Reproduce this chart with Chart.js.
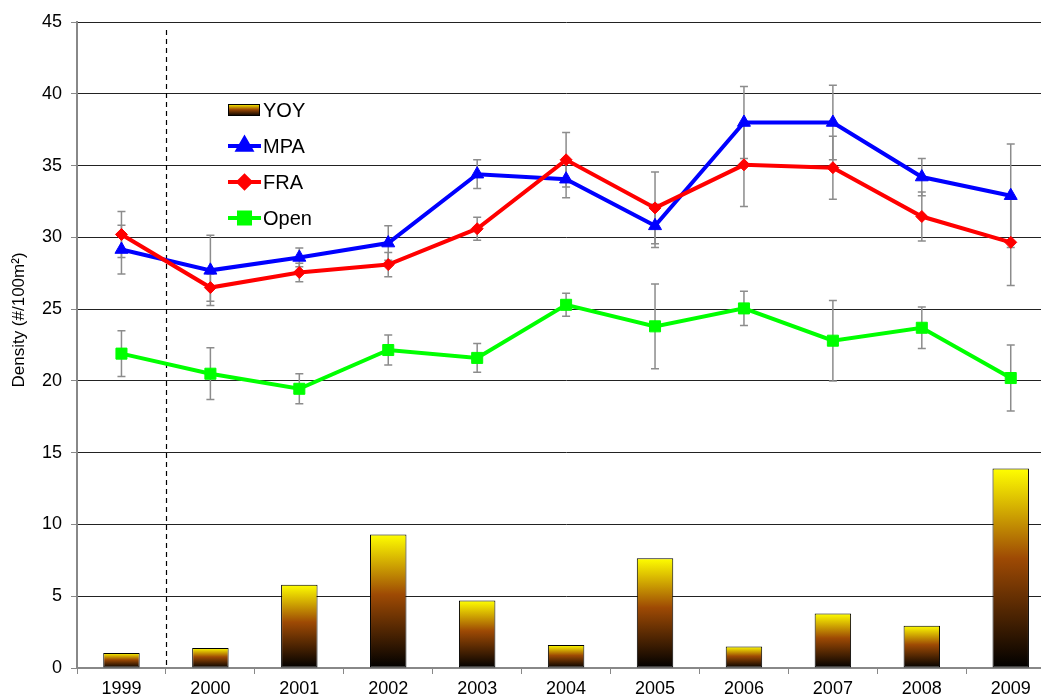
<!DOCTYPE html>
<html>
<head>
<meta charset="utf-8">
<script src="https://cdn.jsdelivr.net/npm/chart.js@4"></script>
<style>
  html,body{margin:0;padding:0;background:#fff;overflow:hidden;}
  #wrap{width:1041px;height:700px;overflow:hidden;}
</style>
</head>
<body>
<div id="wrap"><canvas id="c" width="1064" height="700"></canvas></div>
<script>
// ===== data =====
const years = ['1999','2000','2001','2002','2003','2004','2005','2006','2007','2008','2009'];
const yoy   = [1.05, 1.4, 5.8, 9.3, 4.7, 1.6, 7.65, 1.5, 3.8, 2.95, 13.9];
const mpa   = [29.15, 27.7, 28.6, 29.6, 34.4, 34.05, 30.8, 38.0, 38.0, 34.2, 32.9];
const fra   = [30.2, 26.5, 27.55, 28.1, 30.6, 35.4, 32.05, 35.05, 34.85, 31.45, 29.65];
const open  = [21.9, 20.5, 19.45, 22.15, 21.6, 25.3, 23.8, 25.05, 22.8, 23.7, 20.2];
const mpaErr  = [1.7, 2.45, 0.65, 1.2, 1.0, 1.3, 1.5, 2.5, 2.6, 1.3, 3.6];
const fraErr  = [1.6, 0.95, 0.65, 0.85, 0.8, 1.9, 2.5, 2.9, 2.2, 1.7, 3.0];
const openErr = [1.6, 1.8, 1.05, 1.05, 1.0, 0.8, 2.95, 1.2, 2.8, 1.45, 2.3];
const yTicks = [0,5,10,15,20,25,30,35,40,45];
const yTitle = 'Density (#/100m²)';

const FONT = 'Liberation Sans, Arial, sans-serif';

// ===== helpers =====
function barGrad(g, top, bot){
  const gr = g.createLinearGradient(0, top, 0, bot);
  gr.addColorStop(0, '#ffff00');
  gr.addColorStop(0.45, '#9e4a04');
  gr.addColorStop(1, '#000000');
  return gr;
}

// error bars (drawn under the lines)
const errBars = {
  id:'errBars',
  beforeDatasetsDraw(c){
    const {ctx, scales:{x,y}} = c;
    ctx.save();
    ctx.strokeStyle = '#8c8c8c'; ctx.lineWidth = 1.5;
    [[mpa,mpaErr],[fra,fraErr],[open,openErr]].forEach(([v,e])=>{
      v.forEach((val,i)=>{
        const px = x.getPixelForValue(i);
        const hi = y.getPixelForValue(val+e[i]), lo = y.getPixelForValue(val-e[i]);
        ctx.beginPath();
        ctx.moveTo(px,hi); ctx.lineTo(px,lo);
        ctx.moveTo(px-4,hi); ctx.lineTo(px+4,hi);
        ctx.moveTo(px-4,lo); ctx.lineTo(px+4,lo);
        ctx.stroke();
      });
    });
    ctx.restore();
  }
};

// dashed separator between 1999 and 2000
const divider = {
  id:'divider',
  beforeDatasetsDraw(c){
    const {ctx, chartArea:{top,bottom}, scales:{x}} = c;
    const px = Math.round((x.getPixelForValue(0)+x.getPixelForValue(1))/2)+0.5;
    ctx.save();
    ctx.strokeStyle='#000'; ctx.lineWidth=1.2; ctx.setLineDash([5,4]);
    ctx.beginPath(); ctx.moveTo(px,top+8); ctx.lineTo(px,bottom); ctx.stroke();
    ctx.restore();
  }
};

// y title, sits a bit above the middle like the original
const yTitlePlug = {
  id:'yTitlePlug',
  afterDraw(c){
    const ctx = c.ctx, a = c.chartArea;
    ctx.save();
    ctx.translate(19, (a.top+a.bottom)/2 - 25);
    ctx.rotate(-Math.PI/2);
    ctx.font = '17px ' + FONT; ctx.fillStyle = '#000';
    ctx.textAlign = 'center'; ctx.textBaseline = 'middle';
    ctx.fillText(yTitle, 0, 0);
    ctx.restore();
  }
};

// legend inside the plot
const inLegend = {
  id:'inLegend',
  afterDraw(c){
    const ctx = c.ctx, x0 = c.chartArea.left + 151, y0 = 110, step = 36;
    ctx.save();
    ctx.font = '20px ' + FONT; ctx.fillStyle = '#000'; ctx.textBaseline = 'middle';
    c.data.datasets.forEach((ds,i)=>{
      const yy = y0 + i*step;
      if (ds.type === 'bar') {
        ctx.fillStyle = barGrad(ctx, yy-6, yy+6);
        ctx.fillRect(x0, yy-6, 32, 12);
        ctx.strokeStyle='#000'; ctx.lineWidth=1; ctx.strokeRect(x0+0.5, yy-5.5, 31, 11);
      } else {
        ctx.strokeStyle = ds.borderColor; ctx.lineWidth = 4;
        ctx.beginPath(); ctx.moveTo(x0, yy); ctx.lineTo(x0+33, yy); ctx.stroke();
        ctx.fillStyle = ds.borderColor;
        Chart.helpers.drawPoint(ctx, {pointStyle: ds.pointStyle, radius: ds.pointRadius, borderWidth: 1}, x0+16.5, yy);
        ctx.fill();
      }
      ctx.fillStyle = '#000';
      ctx.fillText(ds.label, x0+35, yy+1);
    });
    ctx.restore();
  }
};

const mkLine = (label, data, col, style, r, ord) => ({
  type:'line', label, data, order: ord,
  borderColor: col, backgroundColor: col, borderWidth: 4,
  pointStyle: style, pointRadius: r, pointHoverRadius: r,
  pointBackgroundColor: col, pointBorderColor: col, pointBorderWidth: 1,
  tension: 0
});

new Chart(document.getElementById('c'), {
  type:'bar',
  data:{
    labels: years,
    datasets:[
      { type:'bar', label:'YOY', data: yoy, order: 4,
        borderColor:'#000', borderWidth:1, borderSkipped:false,
        barPercentage:0.41, categoryPercentage:1,
        backgroundColor: ctx => {
          const c = ctx.chart;
          if (!c.chartArea || ctx.type !== 'data') return '#a05000';
          const y = c.scales.y;
          return barGrad(c.ctx, y.getPixelForValue(ctx.raw), y.getPixelForValue(0));
        }
      },
      mkLine('MPA', mpa, '#0000ff', 'triangle', 7.5, 3),
      mkLine('FRA', fra, '#ff0000', 'rectRot', 6, 2),
      mkLine('Open', open, '#00ff00', 'rect', 7.8, 1)
    ]
  },
  options:{
    responsive:false, animation:false,
    layout:{padding:{top:22, left:8, right:0, bottom:0}},
    plugins:{legend:{display:false}, tooltip:{enabled:false}},
    scales:{
      x:{
        offset:true,
        grid:{drawOnChartArea:false, drawTicks:true, tickLength:6, tickColor:'#888', offset:true},
        border:{color:'#888', width:2},
        ticks:{color:'#000', font:{family:FONT, size:18}, padding:4, maxRotation:0},
        afterFit: s => { s.height = 32; }
      },
      y:{
        min:0, max:45,
        afterBuildTicks: s => { s.ticks = yTicks.map(v=>({value:v})); },
        grid:{color:'#222', lineWidth:1, tickColor:'#888', tickLength:6},
        border:{color:'#888', width:2},
        ticks:{color:'#000', font:{family:FONT, size:18}, padding:9},
        afterFit: s => { s.width = 69; }
      }
    }
  },
  plugins:[errBars, divider, yTitlePlug, inLegend]
});
</script>
</body>
</html>
